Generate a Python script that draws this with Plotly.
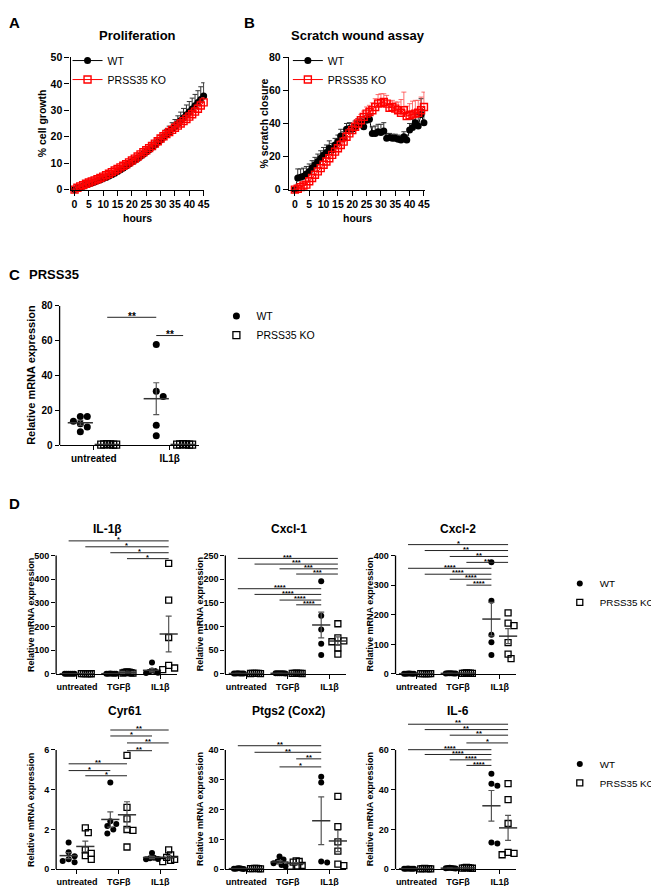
import numpy as np
import plotly.graph_objects as go

W, H = 659, 886
FONT = "Liberation Sans, Arial, Helvetica, sans-serif"

# ---------------- Data ----------------
hours = list(range(46))
time_ticks = [0, 5, 10, 15, 20, 25, 30, 35, 40, 45]
prolif_ticks = [0, 10, 20, 30, 40, 50]
scratch_ticks = [0, 20, 40, 60, 80]

prolif_wt = [0.0, 0.5, 0.9, 1.3, 1.7, 2.1, 2.5, 2.9, 3.3, 3.7, 4.2, 4.6, 5.1, 5.6, 6.2, 6.8, 7.5, 8.2, 8.9, 9.7,
             10.4, 11.1, 11.8, 12.6, 13.4, 14.2, 15.1, 16.0, 16.9, 17.9, 18.8, 19.8, 20.8, 21.8, 22.9, 23.9,
             25.0, 26.1, 27.2, 28.3, 29.4, 30.5, 31.7, 32.9, 34.1, 35.4]
prolif_wt_err = [0.2, 0.3, 0.3, 0.3, 0.4, 0.4, 0.4, 0.5, 0.5, 0.5, 0.6, 0.6, 0.6, 0.7, 0.7, 0.7, 0.8, 0.8, 0.8, 0.9,
                 0.9, 1.0, 1.0, 1.0, 1.1, 1.1, 1.2, 1.3, 1.4, 1.5, 1.6, 1.8, 2.0, 2.2, 2.4, 2.6, 2.9, 3.2, 3.5, 3.7,
                 3.9, 4.1, 4.3, 4.5, 4.8, 5.0]
prolif_ko = [0.0, 0.7, 1.2, 1.7, 2.2, 2.7, 3.1, 3.5, 3.9, 4.4, 4.9, 5.4, 6.0, 6.6, 7.2, 7.8, 8.4, 9.0, 9.6, 10.3,
             11.0, 11.7, 12.5, 13.3, 14.1, 14.9, 15.7, 16.5, 17.4, 18.3, 19.3, 20.2, 21.0, 21.8, 22.6, 23.4,
             24.2, 25.0, 25.9, 26.7, 27.6, 28.5, 29.5, 30.6, 31.8, 33.0]
prolif_ko_err = [0.2, 0.3, 0.3, 0.3, 0.3, 0.4, 0.4, 0.4, 0.4, 0.5, 0.5, 0.5, 0.5, 0.6, 0.6, 0.6, 0.6, 0.7, 0.7, 0.7,
                 0.7, 0.8, 0.8, 0.8, 0.8, 0.9, 0.9, 0.9, 1.0, 1.0, 1.0, 1.1, 1.1, 1.2, 1.2, 1.3, 1.3, 1.4, 1.4, 1.5,
                 1.5, 1.6, 1.6, 1.7, 1.7, 1.8]

scratch_wt = [0, 7, 7.5, 8, 9.5, 11, 13, 15, 17, 19, 21, 22.5, 25, 24, 27, 29, 32.5, 31, 36.5, 37,
              36.5, 38, 40, 41, 38, 42, 42.5, 34, 34, 35, 34.5, 35.5, 31, 31.5, 31, 31, 30.5, 30, 32, 30,
              36, 37.5, 40.5, 38.5, 45.5, 40.5]
scratch_wt_err = [0, 5.5, 5, 5, 4.5, 4.5, 4.5, 4.5, 4.5, 4.5, 4.5, 4.5, 4.5, 4, 4, 4, 4, 4, 3.5, 3.5,
                  3.5, 3.5, 3, 3, 3, 3, 3, 4, 4.5, 4.5, 5, 5, 3, 2.5, 2.5, 2.5, 2.5, 2.5, 3, 3,
                  4, 5, 6, 7, 9.5, 8]
scratch_ko = [0, 0.5, 1.5, 2.5, 3, 5, 7, 9, 11, 13, 15, 17, 19, 21, 23, 25, 27, 29, 32, 34,
              36, 38, 40, 42, 44, 46, 47, 48, 50, 52, 52.5, 53, 52, 49.5, 50, 49, 48, 46.5, 48, 44.5,
              45, 45.5, 46, 46.5, 48, 50]
scratch_ko_err = [0, 0.5, 1, 1, 1.5, 1.5, 2, 2, 2, 2, 2, 2, 2, 2, 2, 2, 2.5, 2.5, 2.5, 3,
                  3, 3, 3, 3.5, 3.5, 4, 4, 4.5, 5, 5.5, 5.5, 5, 5, 4, 4, 4, 5, 8, 11, 6,
                  7, 8, 8, 7.5, 8, 9]

# Panel C: PRSS35
prss35_groups = ["untreated", "IL1β"]
prss35_ticks = [0, 20, 40, 60, 80]
prss35_wt = [[16.5, 16.5, 13.7, 7.6, 12.3, 10.4], [57.8, 30.9, 28.0, 11.4, 5.3]]
prss35_ko = [[0.4, 0.3, 0.5, 0.3, 0.4, 0.3], [0.3, 0.4, 0.3, 0.5, 0.4, 0.3]]
# significance: (group_from, series_from, group_to, series_to, height, label)
prss35_sig = [(0, "ko", 1, "wt", 73.5, "**"), (1, "wt", 1, "ko", 63, "**")]

# Panel D
d_groups = ["untreated", "TGFβ", "IL1β"]

il1b_ticks = [0, 100, 200, 300, 400, 500]
il1b_wt = [[1.0, 0.9, 1.1, 1.0, 0.8, 1.2], [1.5, 1.2, 0.8, 1.0, 1.3, 0.9], [48, 15, 12, 8, 5, 4]]
il1b_ko = [[1.0, 1.1, 0.9, 1.2, 0.8, 1.0], [9, 7, 5, 4, 3, 8], [467, 312, 154, 36, 25, 18]]
il1b_sig = [(0, "wt", 2, "ko", 562, "*"), (0, "ko", 2, "ko", 537, "*"),
            (1, "wt", 2, "ko", 512, "*"), (1, "ko", 2, "ko", 487, "*")]

cxcl1_ticks = [0, 50, 100, 150, 200, 250]
cxcl1_wt = [[1.0, 0.8, 1.2, 0.9, 1.1, 1.0], [1.5, 1.2, 1.4, 1.1, 1.3, 1.6], [196, 123, 94, 64, 40]]
cxcl1_ko = [[1.1, 0.9, 1.0, 1.2, 0.8, 1.0], [1.2, 1.0, 1.4, 1.1, 1.3, 0.9], [106, 76, 70, 68, 55, 42]]
cxcl1_sig = [(0, "wt", 2, "ko", 244, "***"), (0, "ko", 2, "ko", 232, "***"),
             (1, "wt", 2, "ko", 222, "***"), (1, "ko", 2, "ko", 211, "***"),
             (0, "wt", 2, "wt", 180, "****"), (0, "ko", 2, "wt", 168, "****"),
             (1, "wt", 2, "wt", 156, "****"), (1, "ko", 2, "wt", 146, "****")]

cxcl2_ticks = [0, 100, 200, 300, 400]
cxcl2_wt = [[1.0, 1.2, 0.9, 1.1, 0.8, 1.0], [2.0, 1.5, 2.5, 1.8, 2.2, 1.6], [377, 247, 132, 107, 64]]
cxcl2_ko = [[1.1, 1.0, 0.9, 1.2, 1.0, 0.8], [2.5, 3.0, 2.0, 2.8, 3.5, 2.2], [206, 172, 163, 106, 67, 52]]
cxcl2_sig = [(0, "wt", 2, "ko", 437, "*"), (0, "ko", 2, "ko", 417, "**"),
             (1, "wt", 2, "ko", 397, "**"), (1, "ko", 2, "ko", 377, "**"),
             (0, "wt", 2, "wt", 357, "****"), (0, "ko", 2, "wt", 337, "****"),
             (1, "wt", 2, "wt", 320, "****"), (1, "ko", 2, "wt", 300, "****")]

cyr61_ticks = [0, 2, 4, 6]
cyr61_wt = [[1.34, 0.85, 0.65, 0.5, 0.42, 0.35], [4.36, 2.41, 2.28, 2.17, 2.0, 1.8], [0.82, 0.58, 0.55, 0.52, 0.5]]
cyr61_ko = [[2.08, 1.84, 0.98, 0.8, 0.68, 0.5], [5.72, 3.11, 2.53, 2.0, 1.95, 1.12], [0.97, 0.72, 0.6, 0.5, 0.45, 0.38]]
cyr61_sig = [(1, "wt", 2, "ko", 7.0, "**"), (1, "wt", 2, "wt", 6.7, "*"),
             (1, "ko", 2, "ko", 6.35, "**"), (1, "ko", 2, "wt", 5.96, "**"),
             (0, "wt", 1, "ko", 5.3, "**"), (0, "wt", 1, "wt", 4.96, "*"),
             (0, "ko", 1, "ko", 4.7, "*")]

ptgs2_ticks = [0, 10, 20, 30, 40]
ptgs2_wt = [[0.2, 0.3, 0.1, 0.2, 0.3, 0.2], [4.3, 3.3, 2.6, 2.0, 1.4, 1.0], [31.0, 29.1, 2.6, 2.3]]
ptgs2_ko = [[0.2, 0.1, 0.3, 0.2, 0.2, 0.3], [2.8, 2.6, 2.4, 1.3, 1.1, 1.0], [24.4, 14.3, 9.2, 6.1, 1.7, 1.2]]
ptgs2_sig = [(0, "wt", 2, "wt", 41.4, "**"), (0, "ko", 2, "wt", 39.2, "**"),
             (1, "ko", 2, "wt", 37.0, "**"), (1, "wt", 2, "wt", 34.3, "*")]

il6_ticks = [0, 20, 40, 60]
il6_wt = [[0.3, 0.2, 0.4, 0.3, 0.2, 0.3], [0.5, 0.6, 0.4, 0.7, 0.5, 0.6], [48, 43, 42, 13.5, 13]]
il6_ko = [[0.3, 0.4, 0.2, 0.3, 0.3, 0.2], [0.6, 0.8, 0.5, 0.7, 0.9, 0.6], [43, 35, 23, 8.5, 7.3, 8.0]]
il6_sig = [(0, "wt", 2, "ko", 72.9, "**"), (0, "ko", 2, "ko", 70.2, "**"),
           (1, "wt", 2, "ko", 67.4, "**"), (1, "ko", 2, "ko", 63.5, "*"),
           (0, "wt", 2, "wt", 60.1, "****"), (0, "ko", 2, "wt", 57.7, "****"),
           (1, "wt", 2, "wt", 55.0, "****"), (1, "ko", 2, "wt", 52.2, "****")]

# ---------------- Helpers ----------------
def xdom(l, r):
    return [l / W, r / W]


def ydom(top, bot):
    return [1 - bot / H, 1 - top / H]


def pfont(size, bold=True):
    return dict(family=FONT, size=size, color="black", weight="bold" if bold else "normal")


def base_axis(size):
    return dict(showgrid=False, zeroline=False, showline=True, linecolor="black", linewidth=1.3,
                ticks="outside", ticklen=4, tickwidth=1.3, tickcolor="black",
                tickfont=pfont(size), fixedrange=True)


annotations = []
shapes = []


def ann(text, xp, yp, size, bold=True, angle=0, xanchor="center", yanchor="middle"):
    annotations.append(dict(text=text, x=xp / W, y=1 - yp / H, xref="paper", yref="paper",
                            showarrow=False, font=pfont(size, bold), textangle=angle,
                            xanchor=xanchor, yanchor=yanchor))


def swarm_offsets(vals, ppu_y, d, maxhalf):
    order = sorted(range(len(vals)), key=lambda i: -vals[i])
    placed = []
    offs = [0.0] * len(vals)
    for i in order:
        y = vals[i] * ppu_y
        k = 0
        while True:
            cand = ((k + 1) // 2) * (d / 2.0) * (1 if k % 2 else -1)
            if all((cand - ox) ** 2 + (y - oy) ** 2 >= 0.8 * d * d for ox, oy in placed):
                break
            k += 1
        offs[i] = cand
        placed.append((cand, y))
    m = max(abs(o) for o in offs)
    if m > maxhalf:
        offs = [o * maxhalf / m for o in offs]
    return offs


layout = {}
fig = go.Figure()

# ---------------- Panel A & B ----------------
ts_panels = [
    dict(n=1, left=63, right=198, xr=[-1.4, 45.3], ymax=50, yt=prolif_ticks,
         wt=prolif_wt, wte=prolif_wt_err, ko=prolif_ko, koe=prolif_ko_err, legend="legend"),
    dict(n=2, left=283, right=420, xr=[-2.1, 45.3], ymax=80, yt=scratch_ticks,
         wt=scratch_wt, wte=scratch_wt_err, ko=scratch_ko, koe=scratch_ko_err, legend="legend2"),
]
for p in ts_panels:
    sfx = "" if p["n"] == 1 else str(p["n"])
    xa = dict(base_axis(10.5), domain=xdom(p["left"], p["right"]), range=p["xr"],
              tickvals=time_ticks, anchor="y" + sfx, ticklen=5)
    ya = dict(base_axis(10.5), domain=ydom(44, 178), range=[0, p["ymax"]],
              tickvals=p["yt"], anchor="x" + sfx, ticklen=5)
    layout["xaxis" + sfx] = xa
    layout["yaxis" + sfx] = ya
    zeros = [0] * len(hours)
    fig.add_trace(go.Scatter(
        x=hours, y=p["wt"], mode="lines+markers", name="WT",
        marker=dict(symbol="circle", size=7, color="black"),
        line=dict(color="black", width=1),
        error_y=dict(type="data", array=p["wte"], arrayminus=zeros, symmetric=False,
                     color="#333333", thickness=1, width=2.5),
        xaxis="x" + sfx, yaxis="y" + sfx, cliponaxis=False, legend=p["legend"]))
    fig.add_trace(go.Scatter(
        x=hours, y=p["ko"], mode="lines+markers", name="PRSS35 KO",
        marker=dict(symbol="square-open", size=7, color="#ff0000", line=dict(width=1.4, color="#ff0000")),
        line=dict(color="#ff0000", width=1),
        error_y=dict(type="data", array=p["koe"], arrayminus=zeros, symmetric=False,
                     color="rgba(255,60,60,0.75)", thickness=1, width=2.5),
        xaxis="x" + sfx, yaxis="y" + sfx, cliponaxis=False, legend=p["legend"]))

ann("<b>A</b>", 7, 9, 15)
ann("<b>B</b>", 243, 9, 15)
ann("Proliferation", 130, 22, 13)
ann("Scratch wound assay", 353, 22, 13)
ann("hours", 130, 207, 10.5)
ann("hours", 352, 207, 10.5)
ann("% cell growth", 35, 111, 10.5, angle=-90)
ann("% scratch closure", 258, 111, 10.5, angle=-90)

legend_common = dict(xanchor="left", yanchor="top", bgcolor="rgba(0,0,0,0)",
                     font=dict(family=FONT, size=10.5, color="black"), tracegroupgap=0,
                     itemclick=False, itemdoubleclick=False)
layout["legend"] = dict(legend_common, x=60 / W, y=1 - 32.5 / H)
layout["legend2"] = dict(legend_common, x=282 / W, y=1 - 32.5 / H)


# ---------------- Dot plot helper ----------------
def dot_panel(n, left, ppu_x, xr, bottom, plot_h, ymax, yticks, groups, wt, ko, sig,
              offset, msize, maxhalf, meanlen, tsize, starsize, star_gap, legend=None):
    sfx = str(n)
    ppu_y = plot_h / ymax
    top_val = max([ymax] + [s[4] for s in sig]) * 1.03
    top_px = bottom - top_val * ppu_y
    right = left + (xr[1] - xr[0]) * ppu_x
    layout["xaxis" + sfx] = dict(base_axis(tsize), domain=xdom(left, right), range=xr,
                                 tickvals=list(range(len(groups))), ticktext=groups,
                                 anchor="y" + sfx, ticklen=4)
    layout["yaxis" + sfx] = dict(base_axis(tsize), domain=ydom(top_px, bottom), range=[0, top_val],
                                 tickvals=yticks, anchor="x" + sfx, showline=False)
    shapes.append(dict(type="line", xref="x%s domain" % sfx, yref="y" + sfx, x0=0, x1=0,
                       y0=0, y1=ymax, line=dict(color="black", width=1.3), layer="above"))
    ser_off = {"wt": -offset, "ko": offset}
    for key, data, sym, name in [("wt", wt, "circle", "WT"), ("ko", ko, "square-open", "PRSS35 KO")]:
        xs, ys = [], []
        mx, my, me = [], [], []
        for gi, vals in enumerate(data):
            offs = swarm_offsets(vals, ppu_y, msize, maxhalf)
            c = gi + ser_off[key]
            xs += [c + o / ppu_x for o in offs]
            ys += list(vals)
            arr = np.array(vals, dtype=float)
            mx.append(c)
            my.append(arr.mean())
            me.append(arr.std(ddof=1) / np.sqrt(len(arr)))
        mk = dict(symbol=sym, size=msize, color="black")
        if key == "ko":
            mk["line"] = dict(width=1.3, color="black")
        fig.add_trace(go.Scatter(x=xs, y=ys, mode="markers", name=name, marker=mk,
                                 xaxis="x" + sfx, yaxis="y" + sfx, cliponaxis=False,
                                 showlegend=legend is not None, legend=legend or "legend"))
        fig.add_trace(go.Scatter(x=mx, y=my, mode="markers", showlegend=False,
                                 marker=dict(symbol="line-ew-open", size=meanlen, color="#333333",
                                             line=dict(width=1.5, color="#333333")),
                                 error_y=dict(type="data", array=me, color="#555555",
                                              thickness=1.2, width=3),
                                 xaxis="x" + sfx, yaxis="y" + sfx, cliponaxis=False))
    yshift = -(0.965 * starsize + 1 - star_gap)
    for g0, s0, g1, s1, h, lab in sig:
        x0 = g0 + ser_off[s0]
        x1 = g1 + ser_off[s1]
        shapes.append(dict(type="line", xref="x" + sfx, yref="y" + sfx, x0=x0, x1=x1, y0=h, y1=h,
                           line=dict(color="#222222", width=1)))
        annotations.append(dict(text=lab, x=(x0 + x1) / 2, y=h, xref="x" + sfx, yref="y" + sfx,
                                showarrow=False, yanchor="bottom", yshift=yshift,
                                font=pfont(starsize)))
    return left, right, top_px


# ---------------- Panel C ----------------
dot_panel(3, 52, 76.5, [-0.45, 1.39], 437, 141, 80, prss35_ticks, prss35_groups,
          prss35_wt, prss35_ko, prss35_sig, 0.177, 7, 9, 18, 10, 10, 4, legend="legend3")
ann("<b>C</b>", 7, 264, 15)
ann("PRSS35", 46, 264, 13)
ann("Relative mRNA expression", 23, 366, 11, angle=-90)
layout["legend3"] = dict(legend_common, x=210 / W, y=1 - 291.5 / H)

# ---------------- Panel D ----------------
d_panels = [
    ("IL-1β", il1b_ticks, il1b_wt, il1b_ko, il1b_sig, 500, 0, 0, 100, None),
    ("Cxcl-1", cxcl1_ticks, cxcl1_wt, cxcl1_ko, cxcl1_sig, 250, 0, 1, 283, None),
    ("Cxcl-2", cxcl2_ticks, cxcl2_wt, cxcl2_ko, cxcl2_sig, 400, 0, 2, 453, "legend4"),
    ("Cyr61", cyr61_ticks, cyr61_wt, cyr61_ko, cyr61_sig, 6, 1, 0, 118, None),
    ("Ptgs2 (Cox2)", ptgs2_ticks, ptgs2_wt, ptgs2_ko, ptgs2_sig, 40, 1, 1, 283, None),
    ("IL-6", il6_ticks, il6_wt, il6_ko, il6_sig, 60, 1, 2, 453, "legend5"),
]
row_geo = [dict(bottom=669, h=120, title_y=522), dict(bottom=867, h=121, title_y=707)]
col_left = [48.5, 219, 390.5]
for i, (title, yt, wt, ko, sig, ymax, r, c, tx, lg) in enumerate(d_panels):
    g = row_geo[r]
    left = col_left[c]
    dot_panel(4 + i, left, 42, [-0.5, 2.4], g["bottom"], g["h"], ymax, yt, d_groups,
              wt, ko, sig, 0.2, 6, 6, 13, 9, 7.5, 3, legend=lg)
    ann(title, tx, g["title_y"], 12)
    ann("Relative mRNA expression", left - 26, g["bottom"] - g["h"] / 2, 9, angle=-90)

ann("<b>D</b>", 7, 496, 15)
legend_d = dict(legend_common, font=dict(family=FONT, size=9.8, color="black"))
layout["legend4"] = dict(legend_d, x=556 / W, y=1 - 562.5 / H)
layout["legend5"] = dict(legend_d, x=556 / W, y=1 - 745.5 / H)

fig.update_layout(
    width=W, height=H, margin=dict(l=0, r=0, t=0, b=0),
    paper_bgcolor="white", plot_bgcolor="rgba(0,0,0,0)",
    font=dict(family=FONT, color="black"),
    annotations=annotations, shapes=shapes, showlegend=True,
    **layout,
)

fig.write_html("out.html")
